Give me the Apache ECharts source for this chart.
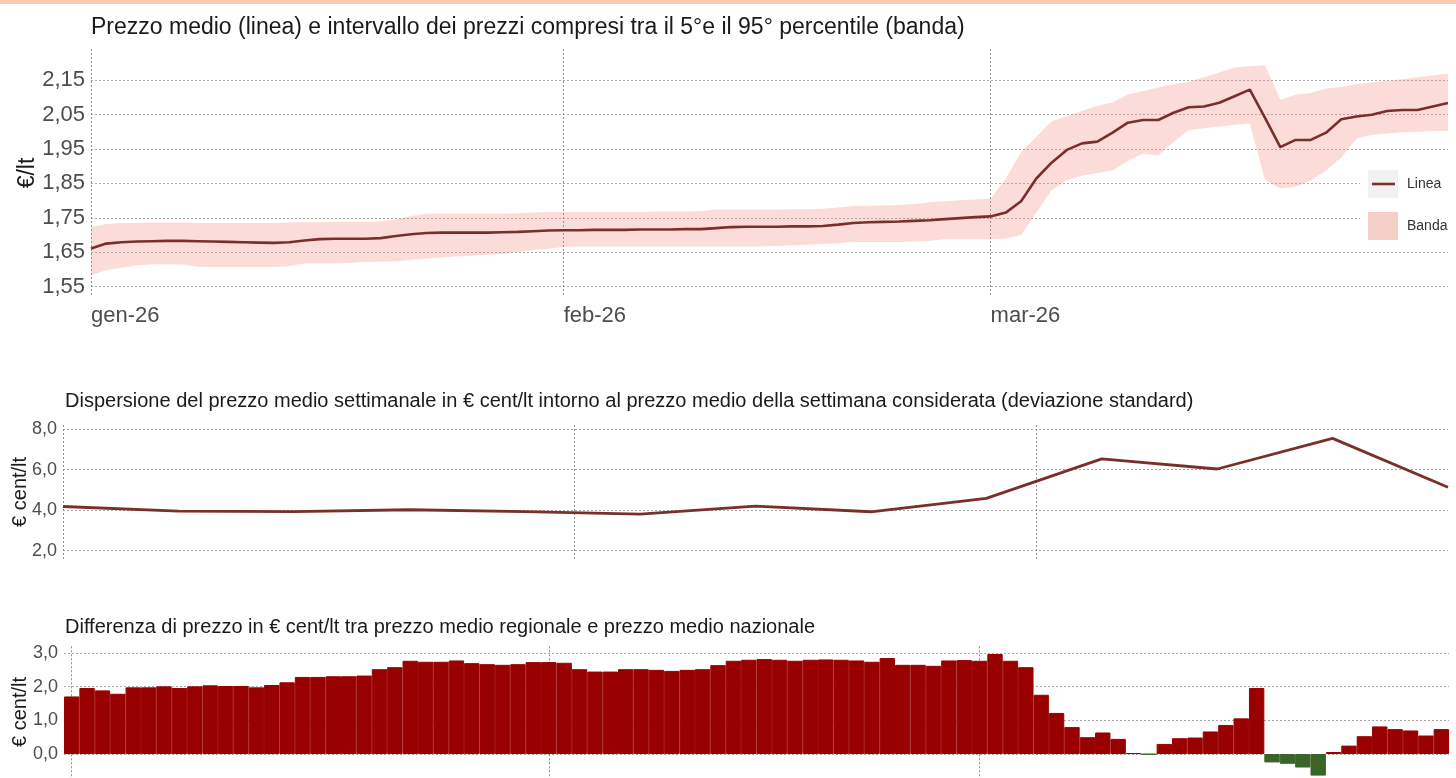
<!DOCTYPE html>
<html>
<head>
<meta charset="utf-8">
<script src="https://cdn.jsdelivr.net/npm/echarts@6/dist/echarts.min.js"></script>
<style>
  html, body { margin: 0; padding: 0; background: #fff; }
  #strip { position: absolute; left: 0; top: 0; width: 1456px; height: 4px; background: #f9cdb0; z-index: 2; }
  #chart { width: 1456px; height: 778px; }
</style>
</head>
<body>
<div id="strip"></div>
<div id="chart"></div>
<script>
// Month boundaries and their tick labels
const monthStarts = ['2026-01-01', '2026-02-01', '2026-03-01'];
const monthLabels = ['gen-26', 'feb-26', 'mar-26'];

// Daily average price (€/lt), 1 Jan – 31 Mar
const priceMean = [
  1.661, 1.675, 1.679, 1.681, 1.682, 1.683, 1.683, 1.682, 1.681, 1.680,
  1.679, 1.678, 1.677, 1.679, 1.684, 1.688, 1.689, 1.689, 1.689, 1.691,
  1.697, 1.702, 1.706, 1.707, 1.707, 1.707, 1.707, 1.708, 1.709, 1.711,
  1.713, 1.714, 1.714, 1.715, 1.715, 1.715, 1.716, 1.716, 1.716, 1.717,
  1.717, 1.720, 1.723, 1.724, 1.724, 1.724, 1.725, 1.725, 1.726, 1.730,
  1.735, 1.737, 1.738, 1.739, 1.741, 1.743, 1.746, 1.749, 1.752, 1.754,
  1.765, 1.798, 1.864, 1.910, 1.947, 1.966, 1.971, 1.997, 2.026, 2.034,
  2.034, 2.055, 2.071, 2.073, 2.084, 2.103, 2.122, 2.040, 1.955, 1.976,
  1.976, 1.997, 2.036, 2.044, 2.049, 2.060, 2.063, 2.063, 2.073, 2.083
];
// 5th percentile
const priceLow = [
  1.583, 1.598, 1.605, 1.612, 1.615, 1.615, 1.614, 1.608, 1.607, 1.607,
  1.607, 1.607, 1.607, 1.610, 1.617, 1.617, 1.617, 1.619, 1.622, 1.622,
  1.624, 1.628, 1.632, 1.635, 1.638, 1.640, 1.643, 1.645, 1.650, 1.657,
  1.660, 1.665, 1.667, 1.667, 1.667, 1.667, 1.667, 1.667, 1.667, 1.667,
  1.667, 1.667, 1.667, 1.667, 1.667, 1.668, 1.670, 1.672, 1.674, 1.676,
  1.680, 1.680, 1.680, 1.680, 1.681, 1.683, 1.688, 1.688, 1.688, 1.688,
  1.690, 1.700, 1.765, 1.830, 1.860, 1.872, 1.880, 1.887, 1.915, 1.936,
  1.931, 1.970, 2.005, 2.010, 2.015, 2.020, 2.024, 1.860, 1.835, 1.840,
  1.858, 1.887, 1.925, 1.980, 1.990, 1.995, 1.998, 2.000, 2.002, 2.003
];
// 95th percentile
const priceHigh = [
  1.723, 1.732, 1.735, 1.735, 1.736, 1.736, 1.736, 1.735, 1.735, 1.735,
  1.735, 1.735, 1.735, 1.736, 1.737, 1.737, 1.738, 1.738, 1.738, 1.740,
  1.745, 1.755, 1.762, 1.762, 1.762, 1.762, 1.762, 1.762, 1.763, 1.765,
  1.767, 1.767, 1.767, 1.767, 1.767, 1.767, 1.767, 1.768, 1.768, 1.768,
  1.770, 1.774, 1.774, 1.774, 1.774, 1.774, 1.775, 1.775, 1.776, 1.780,
  1.784, 1.785, 1.786, 1.787, 1.790, 1.795, 1.798, 1.801, 1.803, 1.805,
  1.864, 1.940, 1.985, 2.030, 2.045, 2.060, 2.075, 2.085, 2.108, 2.118,
  2.128, 2.138, 2.145, 2.158, 2.172, 2.186, 2.190, 2.193, 2.093, 2.107,
  2.112, 2.125, 2.130, 2.138, 2.143, 2.148, 2.152, 2.158, 2.164, 2.169
];

// Weekly standard deviation (€ cent/lt)
const weekDates = [
  '2026-01-01', '2026-01-08', '2026-01-15', '2026-01-22', '2026-01-29', '2026-02-05', '2026-02-12',
  '2026-02-19', '2026-02-26', '2026-03-05', '2026-03-12', '2026-03-19', '2026-03-26'
];
const weeklyStd = [4.18, 3.95, 3.93, 4.02, 3.93, 3.80, 4.20, 3.92, 4.58, 6.53, 6.03, 7.54, 5.13];

// Daily regional minus national average price (€ cent/lt)
const regionalDiff = [
  1.71, 1.96, 1.89, 1.79, 1.98, 1.98, 2.01, 1.96, 2.01, 2.04,
  2.02, 2.02, 1.98, 2.05, 2.13, 2.29, 2.29, 2.31, 2.31, 2.33,
  2.52, 2.58, 2.77, 2.74, 2.74, 2.78, 2.70, 2.67, 2.65, 2.67,
  2.73, 2.73, 2.71, 2.52, 2.45, 2.45, 2.52, 2.52, 2.50, 2.47,
  2.50, 2.52, 2.64, 2.77, 2.80, 2.82, 2.80, 2.77, 2.80, 2.81,
  2.80, 2.78, 2.74, 2.85, 2.65, 2.65, 2.62, 2.78, 2.79, 2.77,
  2.97, 2.77, 2.58, 1.76, 1.22, 0.80, 0.50, 0.64, 0.45, 0.03,
  -0.01, 0.30, 0.47, 0.49, 0.67, 0.86, 1.06, 1.96, -0.25, -0.29,
  -0.40, -0.64, 0.06, 0.25, 0.53, 0.82, 0.74, 0.70, 0.55, 0.74
];

// Consecutive calendar days starting 1 Jan 2026
function dayList(n) {
  const t0 = Date.UTC(2026, 0, 1);
  const out = [];
  for (let i = 0; i < n; i++) out.push(new Date(t0 + i * 86400000).toISOString().slice(0, 10));
  return out;
}
const priceDays = dayList(priceMean.length);
const stdDays = dayList(85);
const diffDays = dayList(regionalDiff.length);

const FONT = 'Liberation Sans, Arial, Helvetica, sans-serif';
const GRID_COLOR = '#a9a9a9';
const VGRID_COLOR = '#8f8f8f';
const LINE_COLOR = '#7a2f2b';
const BAND_KEY = '#f5d0c9';
const UP_COLOR = '#990000';
const DOWN_COLOR = '#3a6428';
const isMonthStart = (i, v) => monthStarts.indexOf(v) >= 0;

// cycle of split-line colours: only every tenth fine tick is drawn
function cycle(pos) {
  const arr = [];
  for (let k = 0; k < 10; k++) arr.push(k === pos ? GRID_COLOR : 'rgba(0,0,0,0)');
  return arr;
}
const hSplit = pos => ({ show: true, lineStyle: { color: cycle(pos), type: [2, 2], width: 1 } });
const vSplit = { show: true, interval: isMonthStart, lineStyle: { color: VGRID_COLOR, type: [2, 2], width: 1 } };

const option = {
  animation: false,
  backgroundColor: '#fff',
  textStyle: { fontFamily: FONT },
  title: [
    { text: 'Prezzo medio (linea) e intervallo dei prezzi compresi tra il 5°e il 95° percentile (banda)',
      left: 86, top: 11, textStyle: { fontSize: 23, fontWeight: 'normal', color: '#1a1a1a', fontFamily: FONT } },
    { text: 'Dispersione del prezzo medio settimanale in € cent/lt intorno al prezzo medio della settimana considerata (deviazione standard)',
      left: 60, top: 386, textStyle: { fontSize: 20, fontWeight: 'normal', color: '#1a1a1a', fontFamily: FONT } },
    { text: 'Differenza di prezzo in € cent/lt tra prezzo medio regionale e prezzo medio nazionale',
      left: 60, top: 612, textStyle: { fontSize: 20, fontWeight: 'normal', color: '#1a1a1a', fontFamily: FONT } }
  ],
  legend: {
    orient: 'vertical', left: 1368, top: 170, padding: 0, itemGap: 14,
    itemWidth: 30, itemHeight: 28, selectedMode: false,
    textStyle: { fontSize: 14, color: '#333', fontFamily: FONT, padding: [4, 0, 0, 4] },
    data: [
      { name: 'Linea', icon: 'rect', itemStyle: { color: '#f0f1f0', borderWidth: 0 } },
      { name: 'Banda', icon: 'rect', itemStyle: { color: BAND_KEY, borderWidth: 0 } }
    ]
  },
  graphic: [
    // white backdrop behind the legend, hiding the grid lines there
    { type: 'rect', z: 3, shape: { x: 1360, y: 163, width: 96, height: 84 }, style: { fill: '#fff' } },
    // the line stroke inside the "Linea" key
    { type: 'line', z: 10, shape: { x1: 1372, y1: 184, x2: 1395, y2: 184 }, style: { stroke: LINE_COLOR, lineWidth: 2.6 } }
  ],
  grid: [
    { left: 91, width: 1357, top: 49, height: 248, outerBoundsMode: 'none', containLabel: false },
    { left: 63, width: 1385, top: 425, height: 133.8, outerBoundsMode: 'none', containLabel: false },
    { left: 64, width: 1385, top: 646.3, height: 131.3, outerBoundsMode: 'none', containLabel: false }
  ],
  xAxis: [
    { gridIndex: 0, type: 'category', data: priceDays, boundaryGap: false,
      axisLine: { show: false }, axisTick: { show: false },
      axisLabel: { interval: isMonthStart, formatter: v => monthLabels[monthStarts.indexOf(v)] || '',
        align: 'left', fontSize: 22, color: '#4d4d4d', margin: 8, fontFamily: FONT },
      splitLine: vSplit },
    { gridIndex: 1, type: 'category', data: stdDays, boundaryGap: false,
      axisLine: { show: false }, axisTick: { show: false }, axisLabel: { show: false },
      splitLine: vSplit },
    { gridIndex: 2, type: 'category', data: diffDays, boundaryGap: true,
      axisLine: { show: false }, axisTick: { show: false }, axisLabel: { show: false },
      splitLine: Object.assign({ alignWithLabel: true }, vSplit) }
  ],
  yAxis: [
    { gridIndex: 0, type: 'value', min: 1.52, max: 2.24, interval: 0.01,
      axisLine: { show: false }, axisTick: { show: false },
      axisLabel: { fontSize: 22, color: '#4d4d4d', margin: 6, fontFamily: FONT,
        formatter: v => (Math.round(v * 100) % 10 === 5 ? v.toFixed(2).replace('.', ',') : '') },
      splitLine: hSplit(3),
      name: '€/lt', nameLocation: 'middle', nameGap: 52, nameMoveOverlap: false,
      nameTextStyle: { fontSize: 23, color: '#1a1a1a', fontFamily: FONT } },
    { gridIndex: 1, type: 'value', min: 1.6, max: 8.2, interval: 0.2,
      axisLine: { show: false }, axisTick: { show: false },
      axisLabel: { fontSize: 18, color: '#4d4d4d', margin: 6, fontFamily: FONT,
        formatter: v => { const r = Math.round(v * 10); return r % 20 === 0 ? (r / 10).toFixed(1).replace('.', ',') : ''; } },
      splitLine: hSplit(2),
      name: '€ cent/lt', nameLocation: 'middle', nameGap: 33, nameMoveOverlap: false,
      nameTextStyle: { fontSize: 20, color: '#1a1a1a', fontFamily: FONT } },
    { gridIndex: 2, type: 'value', min: -0.7, max: 3.2, interval: 0.1,
      axisLine: { show: false }, axisTick: { show: false },
      axisLabel: { fontSize: 18, color: '#4d4d4d', margin: 6, fontFamily: FONT,
        formatter: v => { const r = Math.round(v * 10); return r % 10 === 0 ? (r / 10).toFixed(1).replace('.', ',') : ''; } },
      splitLine: hSplit(7),
      name: '€ cent/lt', nameLocation: 'middle', nameGap: 34, nameMoveOverlap: false,
      nameTextStyle: { fontSize: 20, color: '#1a1a1a', fontFamily: FONT } }
  ],
  series: [
    { name: 'base', type: 'line', xAxisIndex: 0, yAxisIndex: 0, stack: 'band', data: priceLow,
      symbol: 'none', lineStyle: { opacity: 0 }, silent: true },
    { name: 'Banda', type: 'line', xAxisIndex: 0, yAxisIndex: 0, stack: 'band',
      data: priceHigh.map((h, i) => +(h - priceLow[i]).toFixed(4)),
      symbol: 'none', lineStyle: { width: 0, opacity: 0 }, itemStyle: { color: BAND_KEY },
      areaStyle: { color: 'rgba(245, 140, 125, 0.30)', opacity: 1 }, silent: true },
    { name: 'Linea', type: 'line', xAxisIndex: 0, yAxisIndex: 0, data: priceMean,
      symbol: 'none', lineStyle: { color: LINE_COLOR, width: 2.6 }, itemStyle: { color: LINE_COLOR } },
    { name: 'Deviazione standard', type: 'line', xAxisIndex: 1, yAxisIndex: 1,
      data: weekDates.map((d, i) => [d, weeklyStd[i]]),
      symbol: 'none', lineStyle: { color: LINE_COLOR, width: 2.8 } },
    { name: 'Differenza', type: 'bar', xAxisIndex: 2, yAxisIndex: 2, barCategoryGap: '0%',
      data: regionalDiff.map(v => {
        const c = v < 0 ? DOWN_COLOR : UP_COLOR;
        return { value: v, itemStyle: { color: c, borderColor: c, borderWidth: 1 } };
      }) }
  ]
};

const chart = echarts.init(document.getElementById('chart'), null, { renderer: 'canvas' });
chart.setOption(option);
</script>
</body>
</html>
